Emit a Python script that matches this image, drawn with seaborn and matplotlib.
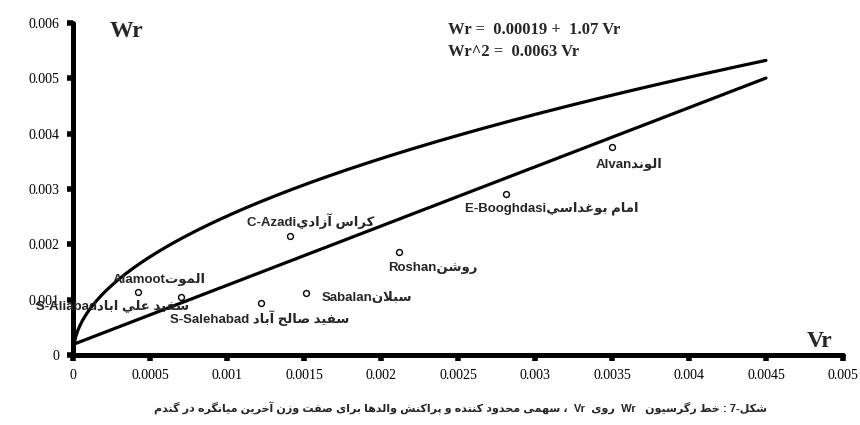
import re
import numpy as np
import pandas as pd
import matplotlib
matplotlib.use("Agg")
import matplotlib.pyplot as plt
from matplotlib.ticker import FuncFormatter, MultipleLocator
import seaborn as sns

# parents (Hayman Wr/Vr graph)
names_en = ["Alvan", "E-Booghdasi", "C-Azadi", "Roshan", "Sabalan", "S-Salehabad ", "Alamoot", "S-Aliabad"]
names_fa = ["الوند", "امام بوغداسي", "كراس آزادي", "روشن", "سبلان", "سفيد صالح آباد", "الموت", "سفيد علي اباد"]
vr = [0.00350, 0.00281, 0.00141, 0.00212, 0.00151, 0.00122, 0.00042, 0.00070]
wr = [0.00376, 0.00291, 0.00215, 0.00186, 0.00112, 0.00094, 0.00114, 0.00105]

# regression line and limiting parabola from the chart's equations
reg_a, reg_b = 0.00019, 1.07
para_k = 0.0063
vr_max = 0.0045

caption = "شکل-7 : خط رگرسیون   Wr  روی  Vr  ، سهمی محدود کننده و پراکنش والدها برای صفت وزن آخرین میانگره در گندم"

# label offsets in points (dx, dy, ha)
offsets = [(-11.5, -13, "left"), (-29.5, -10, "left"), (-31, 11, "left"), (-8, -11.5, "left"),
           (11.5, -3.6, "left"), (-65.5, -11, "left"), (-18, 8.6, "left"), (5.8, -6.5, "right")]


# --- minimal arabic/persian shaping (matplotlib has no bidi/shaping) ---
FORMS = {
    "ا": (0xFE8D, 0xFE8E), "آ": (0xFE81, 0xFE82), "د": (0xFEA9, 0xFEAA), "ر": (0xFEAD, 0xFEAE),
    "ز": (0xFEAF, 0xFEB0), "و": (0xFEED, 0xFEEE),
    "لا": (0xFEFB, 0xFEFC), "لآ": (0xFEF5, 0xFEF6),
    "ب": (0xFE8F, 0xFE90, 0xFE91, 0xFE92), "پ": (0xFB56, 0xFB57, 0xFB58, 0xFB59),
    "ت": (0xFE95, 0xFE96, 0xFE97, 0xFE98), "ح": (0xFEA1, 0xFEA2, 0xFEA3, 0xFEA4),
    "خ": (0xFEA5, 0xFEA6, 0xFEA7, 0xFEA8), "س": (0xFEB1, 0xFEB2, 0xFEB3, 0xFEB4),
    "ش": (0xFEB5, 0xFEB6, 0xFEB7, 0xFEB8), "ص": (0xFEB9, 0xFEBA, 0xFEBB, 0xFEBC),
    "ط": (0xFEC1, 0xFEC2, 0xFEC3, 0xFEC4), "ع": (0xFEC9, 0xFECA, 0xFECB, 0xFECC),
    "غ": (0xFECD, 0xFECE, 0xFECF, 0xFED0), "ف": (0xFED1, 0xFED2, 0xFED3, 0xFED4),
    "ك": (0xFED9, 0xFEDA, 0xFEDB, 0xFEDC), "ک": (0xFB8E, 0xFB8F, 0xFB90, 0xFB91),
    "گ": (0xFB92, 0xFB93, 0xFB94, 0xFB95), "ل": (0xFEDD, 0xFEDE, 0xFEDF, 0xFEE0),
    "م": (0xFEE1, 0xFEE2, 0xFEE3, 0xFEE4), "ن": (0xFEE5, 0xFEE6, 0xFEE7, 0xFEE8),
    "ه": (0xFEE9, 0xFEEA, 0xFEEB, 0xFEEC), "ي": (0xFEF1, 0xFEF2, 0xFEF3, 0xFEF4),
    "ی": (0xFBFC, 0xFBFD, 0xFBFE, 0xFBFF),
}


def shape(s):
    units = []
    i = 0
    while i < len(s):
        if s[i] == "ل" and i + 1 < len(s) and s[i + 1] in "اآ":
            units.append(s[i:i + 2])
            i += 2
        else:
            units.append(s[i])
            i += 1
    out = []
    for k, u in enumerate(units):
        if u not in FORMS:
            out.append(u)
            continue
        f = FORMS[u]
        prev = units[k - 1] if k > 0 else None
        nxt = units[k + 1] if k + 1 < len(units) else None
        jp = prev in FORMS and len(FORMS[prev]) == 4
        jn = len(f) == 4 and nxt in FORMS
        idx = 3 if (jp and jn) else 1 if jp else 2 if jn else 0
        out.append(chr(f[idx]))
    return "".join(out)


def rtl(s):
    # visual order for a right-to-left paragraph with embedded latin runs
    parts = [p for p in re.split(r"([A-Za-z0-9]+)", s) if p]
    vis = [p if re.fullmatch(r"[A-Za-z0-9]+", p) else shape(p)[::-1] for p in parts]
    return "".join(vis[::-1])


sns.set_style("white")
plt.rcParams["font.family"] = ["Liberation Serif", "DejaVu Serif"]

fig = plt.figure(figsize=(8.6, 4.25), dpi=100)
ax = fig.add_axes([0.0849, 0.1647, 0.8953, 0.7812])

xs = np.linspace(0, vr_max, 300)
lines = pd.DataFrame({"Vr": xs, "reg": reg_a + reg_b * xs, "para": np.sqrt(para_k * xs)})
sns.lineplot(data=lines, x="Vr", y="reg", ax=ax, color="black", lw=2.3)
sns.lineplot(data=lines, x="Vr", y="para", ax=ax, color="black", lw=2.3)

pts = pd.DataFrame({"Vr": vr, "Wr": wr})
sns.scatterplot(data=pts, x="Vr", y="Wr", ax=ax, marker="o", s=18, facecolor="white",
                edgecolor="black", linewidth=1, zorder=5)

lab_font = ["Liberation Sans", "DejaVu Sans"]
for en, fa, x, y, (dx, dy, ha) in zip(names_en, names_fa, vr, wr, offsets):
    ax.annotate(en + rtl(fa), (x, y), xytext=(dx, dy), textcoords="offset points",
                ha=ha, va="center", fontsize=9.5, fontweight="bold", family=lab_font, zorder=6)

ax.set_xlim(0, 0.005)
ax.set_ylim(0, 0.006)
ax.xaxis.set_major_locator(MultipleLocator(0.0005))
ax.yaxis.set_major_locator(MultipleLocator(0.001))
fmt = FuncFormatter(lambda v, p: "%g" % round(v, 6))
ax.xaxis.set_major_formatter(fmt)
ax.yaxis.set_major_formatter(fmt)
ax.tick_params(axis="both", direction="out", length=4, width=4, labelsize=10, colors="black",
               bottom=True, left=True, pad=6)
ax.set_xlabel("")
ax.set_ylabel("")
for side in ["top", "right"]:
    ax.spines[side].set_visible(False)
for side in ["left", "bottom"]:
    ax.spines[side].set_linewidth(3.6)
    ax.spines[side].set_color("black")
    ax.spines[side].set_capstyle("round")

ax.text(0.07, 0.973, "Wr", transform=ax.transAxes, fontsize=17, fontweight="bold", ha="center", va="center")
ax.text(0.970, 0.04, "Vr", transform=ax.transAxes, fontsize=17, fontweight="bold", ha="center", va="center")
ax.text(0.487, 0.979, "Wr =  %.5f +  %.2f Vr" % (reg_a, reg_b), transform=ax.transAxes,
        fontsize=12, fontweight="bold", ha="left", va="center")
ax.text(0.487, 0.913, "Wr^2 =  %.4f Vr" % para_k, transform=ax.transAxes,
        fontsize=12, fontweight="bold", ha="left", va="center")

fig.text(0.536, 0.04, rtl(caption), ha="center", va="center", fontsize=8, fontweight="bold",
         family=lab_font)

fig.savefig("out.png", dpi=100)
